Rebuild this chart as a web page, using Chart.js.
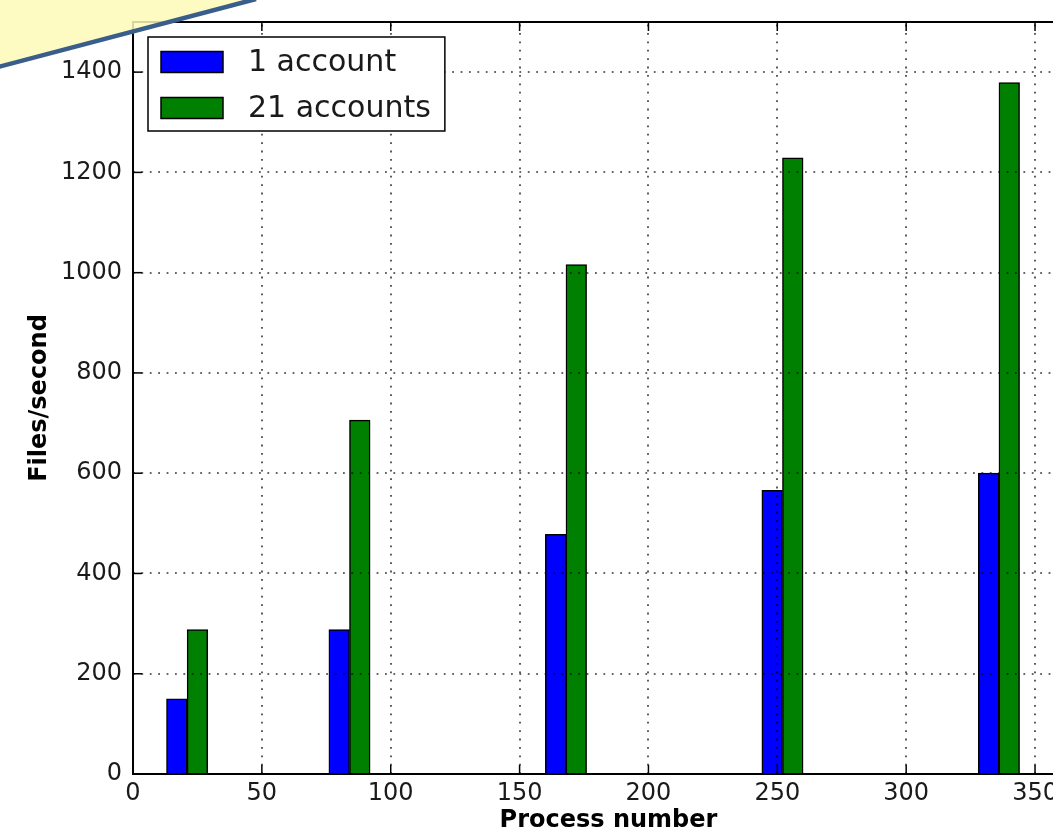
<!DOCTYPE html>
<html lang="en">
<head>
  <meta charset="UTF-8">
  <title>Files/second by process number</title>
  <script src="https://cdn.jsdelivr.net/npm/chart.js"></script>
  <style>
    html, body { margin: 0; padding: 0; background: #fff; overflow: hidden; }
    #wrap { position: relative; width: 1084px; height: 834px; }
    canvas { display: block; }
  </style>
</head>
<body>
  <div id="wrap">
    <canvas id="barChart" width="1084" height="834"></canvas>
  </div>
<script>
// process numbers (x) and throughput per series
const processNumbers = [21, 84, 168, 252, 336];
const oneAccount     = [150, 288, 478, 566, 600];
const manyAccounts   = [288, 706, 1016, 1229, 1379];
const seriesLabels   = ["1 account", "21 accounts"];
const xTickValues    = [0, 50, 100, 150, 200, 250, 300, 350];
const yTickValues    = [0, 200, 400, 600, 800, 1000, 1200, 1400];

const BAR_W = 8;          // bar width in x units
const X_MAX = 369;
const Y_MAX = 1500;
const FONT = '"DejaVu Sans", sans-serif';
const TEXT = "#1a1a1a";

// grid, spines and inward ticks, matplotlib-like (drawn over bars)
const framePlugin = {
  id: "frame",
  afterDatasetsDraw(chart) {
    const { ctx, chartArea: a, scales: { x, y } } = chart;
    ctx.save();
    ctx.strokeStyle = "rgba(0,0,0,0.8)";
    ctx.lineWidth = 1.6;
    ctx.setLineDash([1.8, 6.6]);
    xTickValues.forEach(v => {
      const px = Math.round(x.getPixelForValue(v));
      ctx.beginPath(); ctx.moveTo(px, a.bottom); ctx.lineTo(px, a.top); ctx.stroke();
    });
    yTickValues.forEach(v => {
      const py = Math.round(y.getPixelForValue(v));
      ctx.beginPath(); ctx.moveTo(a.left, py); ctx.lineTo(a.right, py); ctx.stroke();
    });
    ctx.setLineDash([]);
    ctx.strokeStyle = "#000";
    ctx.lineWidth = 1.5;
    xTickValues.forEach(v => {
      const px = x.getPixelForValue(v);
      ctx.beginPath(); ctx.moveTo(px, a.bottom); ctx.lineTo(px, a.bottom - 9); ctx.stroke();
      ctx.beginPath(); ctx.moveTo(px, a.top); ctx.lineTo(px, a.top + 9); ctx.stroke();
    });
    yTickValues.forEach(v => {
      const py = y.getPixelForValue(v);
      ctx.beginPath(); ctx.moveTo(a.left, py); ctx.lineTo(a.left + 9, py); ctx.stroke();
    });
    ctx.lineWidth = 2;
    ctx.strokeRect(a.left, a.top, a.right - a.left, a.bottom - a.top);
    ctx.restore();
  },
  afterDraw(chart) {
    const { ctx, chartArea: a } = chart;
    // legend box in upper left of the axes
    ctx.save();
    ctx.font = "30px " + FONT;
    const boxL = a.left + 15, boxT = a.top + 15;
    const swL = boxL + 13, swW = 62, swH = 21;
    const textX = swL + swW + 25;
    const rowH = 46;
    const widest = Math.max(...chart.data.datasets.map(d => ctx.measureText(d.label).width));
    const boxW = textX + widest + 14 - boxL;
    const boxH = rowH * 2 + 2;
    ctx.fillStyle = "#fff";
    ctx.fillRect(boxL, boxT, boxW, boxH);
    ctx.strokeStyle = "#000";
    ctx.lineWidth = 1.5;
    ctx.strokeRect(boxL, boxT, boxW, boxH);
    chart.data.datasets.forEach((d, i) => {
      const cy = boxT + 25 + i * rowH;
      ctx.fillStyle = d.backgroundColor;
      ctx.fillRect(swL, cy - swH / 2, swW, swH);
      ctx.strokeRect(swL, cy - swH / 2, swW, swH);
      ctx.fillStyle = TEXT;
      ctx.textBaseline = "middle";
      ctx.fillText(d.label, textX, cy + 1);
    });
    // slide callout shape over the top-left corner
    ctx.beginPath();
    ctx.moveTo(0, 0); ctx.lineTo(256, 0); ctx.lineTo(0, 67); ctx.closePath();
    ctx.fillStyle = "rgba(253,250,182,0.85)";
    ctx.fill();
    ctx.beginPath();
    ctx.moveTo(-2, 67); ctx.lineTo(256, -1);
    ctx.strokeStyle = "#3a5e8c";
    ctx.lineWidth = 4.5;
    ctx.stroke();
    ctx.restore();
  }
};

const ctx = document.getElementById("barChart").getContext("2d");
const chart = new Chart(ctx, {
  type: "bar",
  data: {
    datasets: [
      {
        label: seriesLabels[0],
        data: processNumbers.map((p, i) => ({ x: p - BAR_W / 2, y: oneAccount[i] })),
        backgroundColor: "#0000ff",
        borderColor: "#000",
        borderWidth: 1.5,
        grouped: false
      },
      {
        label: seriesLabels[1],
        data: processNumbers.map((p, i) => ({ x: p + BAR_W / 2, y: manyAccounts[i] })),
        backgroundColor: "#008000",
        borderColor: "#000",
        borderWidth: 1.5,
        grouped: false
      }
    ]
  },
  options: {
    responsive: false,
    animation: false,
    layout: { padding: { top: 22, right: 0, left: 0, bottom: 0 } },
    plugins: { legend: { display: false }, tooltip: { enabled: false } },
    scales: {
      x: {
        type: "linear",
        min: 0,
        max: X_MAX,
        offset: false,
        grid: { display: false, drawTicks: false },
        border: { display: false },
        afterBuildTicks: s => { s.ticks = xTickValues.map(v => ({ value: v })); },
        afterFit: s => { s.height = 60; s.paddingLeft = 0; s.paddingRight = 0; },
        ticks: {
          autoSkip: false,
          maxRotation: 0,
          padding: 5,
          color: TEXT,
          font: { family: FONT, size: 24, lineHeight: 1.2 },
          callback: v => String(v)
        },
        title: {
          display: true,
          text: "Process number",
          color: "#000",
          padding: { top: 0, bottom: 0 },
          font: { family: FONT, size: 24, weight: "bold", lineHeight: 1.1 }
        }
      },
      y: {
        min: 0,
        max: Y_MAX,
        grid: { display: false, drawTicks: false },
        border: { display: false },
        afterBuildTicks: s => { s.ticks = yTickValues.map(v => ({ value: v })); },
        afterFit: s => { s.width = 133; s.paddingTop = 0; s.paddingBottom = 0; },
        ticks: {
          padding: 11,
          color: TEXT,
          font: { family: FONT, size: 24, lineHeight: 1.2 },
          callback: v => String(v)
        },
        title: {
          display: true,
          text: "Files/second",
          color: "#000",
          padding: { top: 25, bottom: 0 },
          font: { family: FONT, size: 24, weight: "bold", lineHeight: 1.2 }
        }
      }
    }
  },
  plugins: [framePlugin]
});

// bar thickness in pixels from the x scale
const xs = chart.scales.x;
const thick = xs.getPixelForValue(BAR_W) - xs.getPixelForValue(0);
chart.data.datasets.forEach(d => { d.barThickness = thick; });
chart.update("none");
</script>
</body>
</html>
